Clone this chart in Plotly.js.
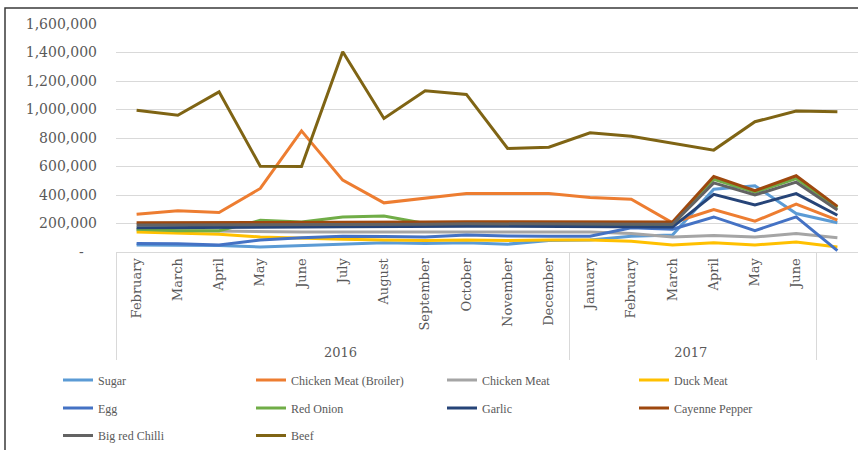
<!DOCTYPE html>
<html>
<head>
<meta charset="utf-8">
<script src="https://cdn.plot.ly/plotly-3.0.1.min.js"></script>
<style>html,body{margin:0;padding:0;background:#fff;}</style>
</head>
<body>
<div id="chart" style="width:858px;height:450px;"></div>
<script>
const ZW = "\u200b";
const years = ["2016","2016","2016","2016","2016","2016","2016","2016","2016","2016","2016","2017","2017","2017","2017","2017","2017"," "];
const months = ["February","March","April","May","June","July","August","September","October","November","December","January","February"+ZW,"March"+ZW,"April"+ZW,"May"+ZW,"June"+ZW," "];

const sugar = [50000,48000,45000,35000,45000,60000,65000,60000,65000,55000,80000,85000,110000,120000,440000,465000,270000,205000];
const broiler = [265000,289000,277000,446000,850000,504000,345000,376000,411000,411000,411000,383000,371000,205000,298000,216000,336000,223000];
const chickenMeat = [155000,150000,145000,145000,140000,140000,140000,140000,140000,140000,140000,140000,130000,105000,115000,105000,130000,100000];
const duckMeat = [140000,135000,125000,105000,95000,90000,85000,80000,85000,80000,85000,85000,75000,50000,65000,50000,70000,35000];
const egg = [60000,58000,50000,85000,100000,110000,108000,105000,120000,112000,110000,110000,170000,160000,246000,150000,246000,10000];
const redOnion = [160000,150000,150000,222000,210000,245000,252000,200000,195000,195000,195000,195000,195000,190000,510000,420000,515000,310000];
const garlic = [170000,170000,170000,170000,175000,178000,180000,180000,180000,180000,180000,180000,178000,175000,405000,330000,410000,258000];
const cayenne = [205000,205000,205000,205000,208000,210000,210000,210000,212000,212000,215000,215000,212000,210000,530000,430000,535000,320000];
const bigRedChilli = [190000,190000,190000,192000,195000,195000,195000,195000,198000,198000,200000,200000,198000,195000,485000,400000,490000,295000];
const beef = [995000,960000,1124000,602000,600000,1405000,937000,1131000,1106000,727000,735000,836000,813000,766000,715000,914000,989000,984000];

const yTickVals = [0,200000,400000,600000,800000,1000000,1200000,1400000,1600000];
const yTickText = ["-\u00a0\u00a0\u00a0","200,000","400,000","600,000","800,000","1,000,000","1,200,000","1,400,000","1,600,000"];

const seriesNames = ["Sugar","Chicken Meat (Broiler)","Chicken Meat","Duck Meat","Egg","Red Onion","Garlic","Cayenne Pepper","Big red Chilli","Beef"];
const seriesValues = [sugar, broiler, chickenMeat, duckMeat, egg, redOnion, garlic, cayenne, bigRedChilli, beef];
const seriesColors = ["#5B9BD5","#ED7D31","#A5A5A5","#FFC000","#4472C4","#70AD47","#264478","#9E480E","#636363","#7F6414"];

// legend grid placement (pixels within the 858x450 page)
const plotLeft = 116, plotRight = 858, plotTop = 24, plotBottom = 252;
const legendColX = [58, 251, 442, 634];
const legendRowY = [380, 408, 436];

const traces = seriesNames.map((name, i) => ({
  type:"scatter", mode:"lines", name:name,
  x:[years, months], y:seriesValues[i],
  line:{color:seriesColors[i], width:3},
  legend: i === 0 ? "legend" : "legend" + (i + 1)
}));

const layout = {
  width:858, height:450,
  margin:{l:plotLeft, r:858 - plotRight, t:plotTop, b:450 - plotBottom},
  paper_bgcolor:"#ffffff", plot_bgcolor:"#ffffff",
  font:{family:"DejaVu Serif", color:"#595959"},
  showlegend:true,
  xaxis:{
    type:"multicategory", tickangle:-90, range:[-0.5, months.length - 0.5],
    tickfont:{family:"DejaVu Serif", size:13, color:"#595959"},
    showgrid:false, showline:true, linecolor:"#d9d9d9", linewidth:1,
    showdividers:true, dividercolor:"#d9d9d9", dividerwidth:1, ticks:""
  },
  yaxis:{
    range:[0,1600000], tickvals:yTickVals, ticktext:yTickText,
    gridcolor:"#d9d9d9", gridwidth:1, zeroline:false, showline:false,
    tickfont:{family:"DejaVu Serif", size:14, color:"#595959"},
    ticklabelstandoff:18
  },
  shapes:[{
    type:"rect", xref:"paper", yref:"paper",
    x0:(5 - plotLeft) / (plotRight - plotLeft), x1:1.2,
    y0:-1.2, y1:(plotBottom - 8) / (plotBottom - plotTop),
    line:{color:"#3a3a3a", width:1.5}, fillcolor:"rgba(0,0,0,0)", layer:"below"
  }]
};

seriesNames.forEach((name, i) => {
  const key = i === 0 ? "legend" : "legend" + (i + 1);
  const col = i % 4, row = Math.floor(i / 4);
  layout[key] = {
    orientation:"h", xanchor:"left", yanchor:"middle",
    x:(legendColX[col] - plotLeft) / (plotRight - plotLeft),
    y:(plotBottom - legendRowY[row]) / (plotBottom - plotTop),
    font:{family:"Liberation Serif", size:12, color:"#595959"},
    bgcolor:"rgba(0,0,0,0)", borderwidth:0
  };
});

Plotly.newPlot("chart", traces, layout, {displayModeBar:false, staticPlot:true});
</script>
</body>
</html>
